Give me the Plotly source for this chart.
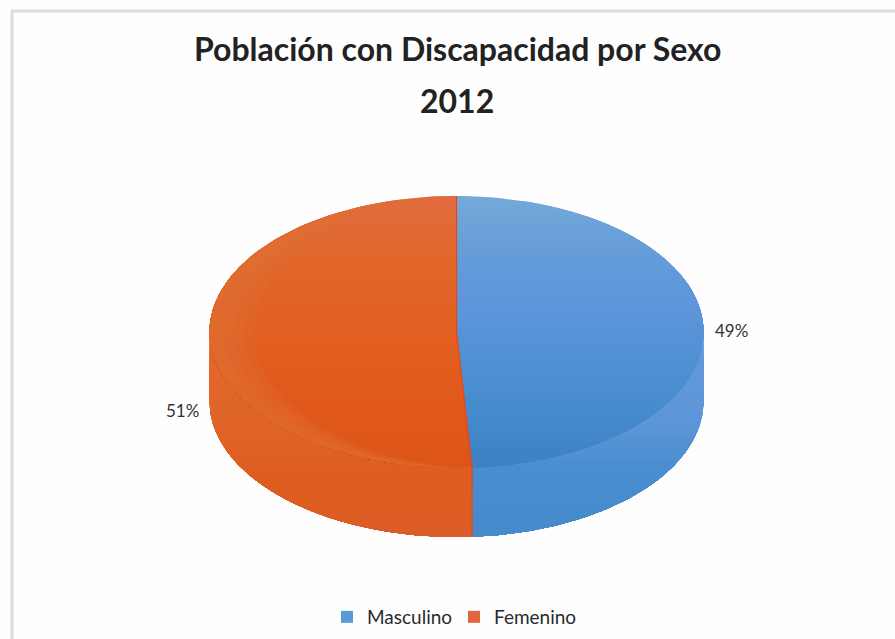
import numpy as np
import plotly.graph_objects as go

# Chart content
title_line = "Población con Discapacidad por Sexo"
title_year = "2012"
categories = ["Masculino", "Femenino"]
percentages = [49, 51]
legend_colors = ["#5b9bd5", "#e2673f"]

# Vertical shading of the top face and the side wall: (pixel row, colour)
face_shades = [
    [(196, (0x74, 0xa9, 0xd8)), (255, (0x65, 0x9c, 0xda)), (300, (0x5f, 0x96, 0xdc)),
     (375, (0x4c, 0x90, 0xd2)), (468, (0x3c, 0x82, 0xc2))],
    [(196, (0xe2, 0x6c, 0x40)), (255, (0xe2, 0x68, 0x2c)), (335, (0xe3, 0x5f, 0x22)),
     (400, (0xe1, 0x59, 0x1c)), (468, (0xde, 0x55, 0x18))],
]
wall_shades = [
    [(330, (0x66, 0x9a, 0xdc)), (420, (0x5c, 0x96, 0xd8)), (470, (0x48, 0x8e, 0xd0)),
     (538, (0x46, 0x8b, 0xcc))],
    [(330, (0xe2, 0x6a, 0x2f)), (430, (0xe0, 0x64, 0x28)), (480, (0xde, 0x5c, 0x1f)),
     (520, (0xdc, 0x5c, 0x24)), (538, (0xd6, 0x5f, 0x30))],
]
rim_color = "rgba(222,112,52,0.25)"
divider_color = "#e8431f"
STEP = 5  # height of one shading band, in pixels

# Pie projection on the page, in pixels
CX, CY, RX, RY, DEPTH = 456.5, 332, 247, 136, 69


def arc(start, stop, drop=0.0, n=90, inset=0.0):
    """Points along the rim; inset pulls them towards the centre at the sides."""
    t = np.radians(np.linspace(start, stop, n))
    k = 1 - inset * np.abs(np.sin(t))
    return np.column_stack([CX + k * RX * np.sin(t), CY - k * RY * np.cos(t) + drop])


def clip_below(poly, row):
    """Keep the part of a polygon lying below a pixel row."""
    out = []
    for a, b in zip(poly, np.roll(poly, -1, axis=0)):
        if a[1] >= row:
            out.append(a)
        if (a[1] >= row) != (b[1] >= row):
            out.append(a + (b - a) * (row - a[1]) / (b[1] - a[1]))
    return np.array(out)


def add_fill(fig, poly, color):
    fig.add_trace(go.Scatter(
        x=np.append(poly[:, 0], poly[0, 0]), y=np.append(poly[:, 1], poly[0, 1]),
        mode="lines", fill="toself", fillcolor=color,
        line=dict(width=0, color=color), hoverinfo="skip", showlegend=False,
    ))


def add_shaded(fig, poly, shades):
    """Fill a polygon with a top-to-bottom colour ramp, as overlapping bands."""
    rows = [s[0] for s in shades]
    for row in np.arange(rows[0], rows[-1], STEP):
        rgb = [np.interp(row, rows, [s[1][i] for s in shades]) for i in range(3)]
        part = clip_below(poly, row)
        if len(part) >= 3:
            add_fill(fig, part, "rgb(%d,%d,%d)" % tuple(rgb))


fig = go.Figure()

# Slice angles follow the percentages, clockwise from twelve o'clock
edges = np.cumsum([0] + percentages) / sum(percentages) * 360
spans = list(zip(edges[:-1], edges[1:]))

# Side walls: only the part of the rim facing the viewer is visible
for (a, b), shades in zip(spans, wall_shades):
    lo, hi = max(a, 90), min(b, 270)
    add_shaded(fig, np.vstack([arc(lo, hi), arc(hi, lo, DEPTH)]), shades)

# Top faces
for (a, b), shades in zip(spans, face_shades):
    add_shaded(fig, np.vstack([[[CX, CY]], arc(a, b)]), shades)

# Lighter rim on the far side of the second slice
for inset in (0.18, 0.14, 0.10, 0.06):
    add_fill(fig, np.vstack([arc(edges[1], 360), arc(360, edges[1], inset=inset)]), rim_color)

# Boundary between the slices, over the face and down the wall
split = arc(edges[1], edges[1], n=1)[0]
fig.add_trace(go.Scatter(
    x=[CX, CX, split[0], split[0]], y=[CY - RY, CY, split[1], split[1] + DEPTH],
    mode="lines", line=dict(color=divider_color, width=1.2),
    hoverinfo="skip", showlegend=False,
))

# Legend entries
for name, color in zip(categories, legend_colors):
    fig.add_trace(go.Scatter(
        x=[None], y=[None], mode="markers", name=name,
        marker=dict(symbol="square", size=12, color=color),
    ))

# Percentage labels beside the slices
label_pos = [(731, 330), (182, 410)]
annotations = [
    dict(x=x, y=y, xref="x", yref="y", text=f"{v}%", showarrow=False,
         font=dict(family="Lato", size=17, color="#333333"))
    for v, (x, y) in zip(percentages, label_pos)
]
annotations.append(dict(
    x=457, y=100, xref="x", yref="y", text=f"<b>{title_year}</b>", showarrow=False,
    font=dict(family="Lato", size=32, color="#222222"),
))
annotations.append(dict(
    x=457, y=48, xref="x", yref="y", text=f"<b>{title_line}</b>", showarrow=False,
    font=dict(family="Lato", size=32, color="#222222"),
))

fig.update_layout(
    width=895, height=639, margin=dict(l=0, r=0, t=0, b=0),
    paper_bgcolor="#fefefe", plot_bgcolor="#fefefe",
    annotations=annotations,
    xaxis=dict(range=[0, 895], visible=False, fixedrange=True),
    yaxis=dict(range=[639, 0], visible=False, fixedrange=True),
    legend=dict(
        orientation="h", x=454 / 895, xanchor="center", y=1 - 617 / 639, yanchor="middle",
        font=dict(family="Lato", size=19, color="#2a2a2a"), bgcolor="rgba(0,0,0,0)",
        itemwidth=30, entrywidth=82, entrywidthmode="pixels",
    ),
    shapes=[
        dict(type="line", xref="x", yref="y", x0=12, x1=12, y0=10, y1=639,
             line=dict(color="#dcdcdc", width=3)),
        dict(type="line", xref="x", yref="y", x0=11, x1=895, y0=11, y1=11,
             line=dict(color="#dcdcdc", width=3)),
    ],
)

fig.write_html("out.html")
